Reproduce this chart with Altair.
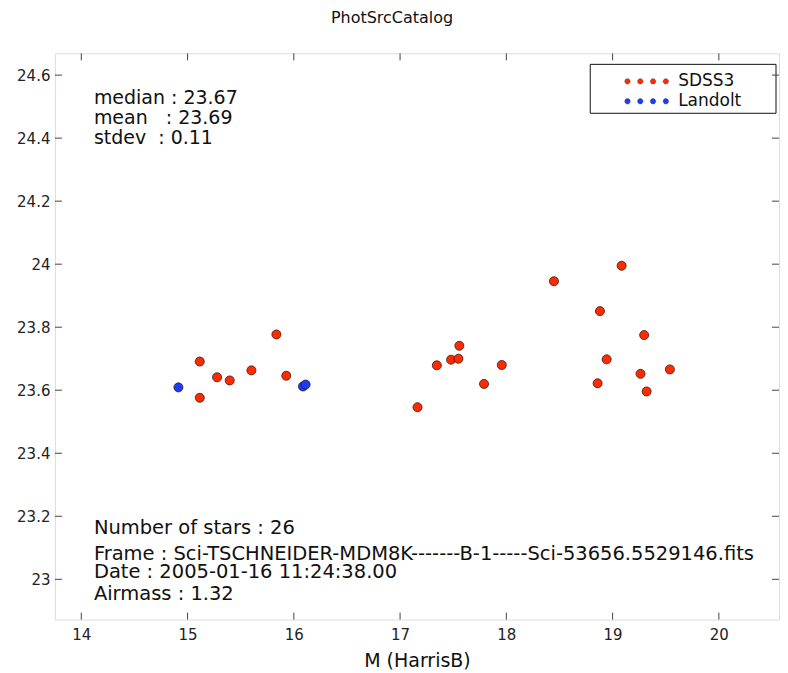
import altair as alt
import pandas as pd

# ---- data ----
SDSS3_X = [15.115, 15.115, 15.278, 15.397, 15.601, 15.836, 15.929, 17.164, 17.346, 17.480,
           17.549, 17.558, 17.790, 17.957, 18.448, 18.881, 18.859, 18.944, 19.085, 19.263,
           19.297, 19.320, 19.539]
SDSS3_Y = [23.691, 23.576, 23.641, 23.631, 23.663, 23.777, 23.646, 23.546, 23.679, 23.697,
           23.700, 23.741, 23.620, 23.680, 23.946, 23.851, 23.622, 23.698, 23.995, 23.652,
           23.775, 23.596, 23.666]
LANDOLT_X = [14.914, 16.086, 16.111]
LANDOLT_Y = [23.609, 23.612, 23.618]
CATALOGS = ["SDSS3", "Landolt"]
COLORS = ["#ff2a00", "#1a3cff"]
X_TICKS = [14, 15, 16, 17, 18, 19, 20]
Y_TICKS = [23, 23.2, 23.4, 23.6, 23.8, 24, 24.2, 24.4, 24.6]
X_DOMAIN = [13.752, 20.566]
Y_DOMAIN = [22.872, 24.669]
TITLE = "PhotSrcCatalog"
X_TITLE = "M (HarrisB)"
STATS = ["median : 23.67", "mean   : 23.69", "stdev  : 0.11"]
INFO = ["Number of stars : 26",
        "Frame : Sci-TSCHNEIDER-MDM8K-------B-1-----Sci-53656.5529146.fits",
        "Date : 2005-01-16 11:24:38.00",
        "Airmass : 1.32"]

W, H = 725, 567
FONT = "DejaVu Sans"

xs = alt.Scale(domain=X_DOMAIN, nice=False, zero=False)
ys = alt.Scale(domain=Y_DOMAIN, nice=False, zero=False)

pts = pd.DataFrame({
    "x": SDSS3_X + LANDOLT_X,
    "y": SDSS3_Y + LANDOLT_Y,
    "catalog": [CATALOGS[0]] * len(SDSS3_X) + [CATALOGS[1]] * len(LANDOLT_X),
})


def circ(cx, r):
    return f"M{cx - r},0A{r},{r} 0 1,1 {cx + r},0A{r},{r} 0 1,1 {cx - r},0Z"


four_dots = "".join(circ(c, 0.9) for c in (-6.4, -2.13, 2.13, 6.4))

points = alt.Chart(pts).mark_circle(size=82, opacity=1, stroke="#3a1a10", strokeWidth=0.8).encode(
    x=alt.X("x:Q", scale=xs, title=X_TITLE,
            axis=alt.Axis(values=X_TICKS, ticks=False, tickSize=0, domain=False, grid=False,
                          labelFontSize=15, labelPadding=8, labelColor="#222",
                          labelExpr="format(datum.value, '~g')",
                          titleFontSize=19, titleFontWeight="normal", titleColor="#111",
                          titlePadding=9, labelFont=FONT, titleFont=FONT)),
    y=alt.Y("y:Q", scale=ys, title=None,
            axis=alt.Axis(values=Y_TICKS, ticks=False, tickSize=0, domain=False, grid=False,
                          labelFontSize=15, labelPadding=5, labelColor="#222",
                          labelExpr="format(datum.value, '~g')", labelFont=FONT)),
    color=alt.Color("catalog:N", sort=CATALOGS,
                    scale=alt.Scale(domain=CATALOGS, range=COLORS),
                    legend=alt.Legend(title=None, orient="none", legendX=584, legendY=19.5,
                                      symbolType=four_dots, symbolSize=36,
                                      symbolStrokeColor="#3a1a10", symbolStrokeWidth=0.4,
                                      labelFontSize=17, labelFont=FONT, labelColor="#111",
                                      labelOffset=23, rowPadding=2, padding=0, zindex=1)),
)

xt = pd.DataFrame({"x": X_TICKS})
yt = pd.DataFrame({"y": Y_TICKS})
tick_style = dict(color="#444", strokeWidth=1)
xticks_b = alt.Chart(xt).mark_rule(**tick_style).encode(
    x=alt.X("x:Q", scale=xs), y=alt.value(H), y2=alt.value(H - 7))
xticks_t = alt.Chart(xt).mark_rule(**tick_style).encode(
    x=alt.X("x:Q", scale=xs), y=alt.value(0), y2=alt.value(7))
yticks_l = alt.Chart(yt).mark_rule(**tick_style).encode(
    y=alt.Y("y:Q", scale=ys), x=alt.value(0), x2=alt.value(7))
yticks_r = alt.Chart(yt).mark_rule(**tick_style).encode(
    y=alt.Y("y:Q", scale=ys), x=alt.value(W), x2=alt.value(W - 7))

box = alt.Chart(pd.DataFrame({"k": [0]})).mark_rect(
    fill="white", stroke="#111", strokeWidth=1).encode(
    x=alt.value(536), x2=alt.value(722), y=alt.value(11), y2=alt.value(60))


def label(text, y, size):
    return alt.Chart(pd.DataFrame({"t": [text.replace(" ", "\u00a0")]})).mark_text(
        align="left", baseline="alphabetic", font=FONT, fontSize=size, color="#111").encode(
        x=alt.value(39), y=alt.value(y), text="t:N")


stat_y = [51, 71, 91]
info_y = [481, 507, 525, 547]
texts = ([label(t, y, 19) for t, y in zip(STATS, stat_y)]
         + [label(t, y, 19.5) for t, y in zip(INFO, info_y)])

chart = alt.layer(box, xticks_b, xticks_t, yticks_l, yticks_r, points, *texts).properties(
    width=W, height=H,
    title=alt.TitleParams(TITLE, fontSize=16, fontWeight="normal", font=FONT, color="#111",
                          anchor="middle", frame="group", dx=-25, offset=27),
    padding={"left": 8, "top": 1, "right": 0, "bottom": 0},
).configure_view(stroke="#444", strokeWidth=1.5).configure(background="white")

chart.save("out.html", embed_options={"renderer": "svg", "actions": False})
